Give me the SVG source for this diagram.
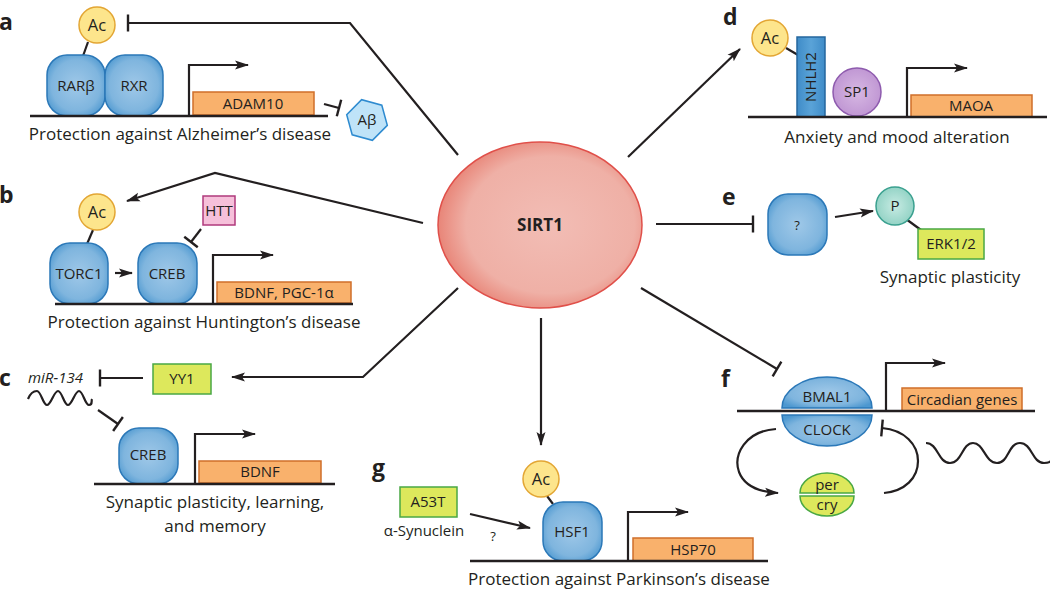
<svg xmlns="http://www.w3.org/2000/svg" width="1050" height="591" viewBox="0 0 1050 591">
<defs>
<style>
text{font-family:"Open Sans","Liberation Sans",sans-serif;fill:#231f20}
.lbl{font-size:23px;font-weight:bold}
.cap{font-size:17px;text-anchor:middle}
.in{font-size:15px;text-anchor:middle}
.act{font-size:16.5px;text-anchor:middle}
.ln{fill:none;stroke:#231f20;stroke-width:2.2}
.dna{fill:none;stroke:#231f20;stroke-width:2.6}
.prot{fill:url(#blue);stroke:#2b78b8;stroke-width:1.5}
.ac{fill:#fde58c;stroke:#e3a634;stroke-width:1.5}
.gene{fill:#f9b16c;stroke:#cf6f2a;stroke-width:1.5}
.yg{fill:#dde85c;stroke:#4aa844;stroke-width:1.5}
</style>
<radialGradient id="blue" cx="50%" cy="50%" r="60%">
<stop offset="0" stop-color="#9fc8e8"/><stop offset="0.7" stop-color="#7fb5de"/><stop offset="1" stop-color="#4d98d0"/>
</radialGradient>
<radialGradient id="red" cx="55%" cy="50%" r="55%">
<stop offset="0" stop-color="#f2bdb5"/><stop offset="0.75" stop-color="#efb0a6"/><stop offset="1" stop-color="#e88578"/>
</radialGradient>
<radialGradient id="teal" cx="50%" cy="50%" r="55%">
<stop offset="0" stop-color="#c7ebe3"/><stop offset="1" stop-color="#8fd1c3"/>
</radialGradient>
<radialGradient id="purple" cx="50%" cy="50%" r="55%">
<stop offset="0" stop-color="#d7b8e3"/><stop offset="1" stop-color="#be94d2"/>
</radialGradient>
<linearGradient id="nhlh" x1="0" x2="1" y1="0" y2="0">
<stop offset="0" stop-color="#3f8cc8"/><stop offset="0.5" stop-color="#5aa3d8"/><stop offset="1" stop-color="#3f8cc8"/>
</linearGradient>
<marker id="arr" markerUnits="userSpaceOnUse" markerWidth="14" markerHeight="10" viewBox="0 0 14 10" refX="13" refY="5" orient="auto">
<path d="M0,0.5 L14,5 L0,9.5 L3,5 z" fill="#231f20"/>
</marker>
<marker id="bar" markerUnits="userSpaceOnUse" markerWidth="4" markerHeight="20" viewBox="-2 -10 4 20" refX="0" refY="0" orient="auto">
<line x1="0" y1="-8.5" x2="0" y2="8.5" stroke="#231f20" stroke-width="2.4"/>
</marker>
</defs>

<g id="connectors">
<polyline class="ln" points="458,155 350,23 128,23" marker-end="url(#bar)"/>
<polyline class="ln" points="423,223 215,173 127,201" marker-end="url(#arr)"/>
<polyline class="ln" points="458,288 363,377 232,377" marker-end="url(#arr)"/>
<line class="ln" x1="541" y1="318" x2="541" y2="445" marker-end="url(#arr)"/>
<line class="ln" x1="628" y1="157" x2="740" y2="49" marker-end="url(#arr)"/>
<line class="ln" x1="656" y1="224" x2="753" y2="224" marker-end="url(#bar)"/>
<line class="ln" x1="641" y1="288" x2="777" y2="369" marker-end="url(#bar)"/>
</g>

<g id="sirt1">
<ellipse cx="540" cy="225" rx="102" ry="83" fill="url(#red)" stroke="#e0504a" stroke-width="1.5"/>
<text x="540" y="231" style="font-size:17px;font-weight:bold;text-anchor:middle">SIRT1</text>
</g>

<g id="panel-a">
<text class="lbl" x="-1" y="30">a</text>
<line class="ln" x1="88" y1="42" x2="83" y2="56"/>
<circle class="ac" cx="97" cy="25" r="18"/>
<text class="act" x="97" y="31">Ac</text>
<rect class="prot" x="47" y="55" width="58" height="61" rx="20"/>
<rect class="prot" x="105" y="55" width="58" height="61" rx="20"/>
<text class="in" x="76" y="91">RARβ</text>
<text class="in" x="134" y="91">RXR</text>
<rect class="gene" x="193" y="92" width="121" height="23"/>
<text class="in" x="253" y="109">ADAM10</text>
<polyline class="ln" points="189,116 189,65 248,65" marker-end="url(#arr)"/>
<line class="dna" x1="30" y1="116" x2="328" y2="116"/>
<line class="ln" x1="324" y1="104" x2="339" y2="108" marker-end="url(#bar)"/>
<polygon points="387.3,125.4 372.4,140.3 352.2,134.8 346.7,114.6 361.6,99.7 381.8,105.2" fill="#bfe3f8" stroke="#2e8bd0" stroke-width="1.5"/>
<text class="in" x="367" y="125">Aβ</text>
<text class="cap" x="180" y="140">Protection against Alzheimer’s disease</text>
</g>

<g id="panel-b">
<text class="lbl" x="-1" y="203">b</text>
<line class="ln" x1="93" y1="230" x2="87" y2="244"/>
<circle class="ac" cx="97" cy="212" r="18"/>
<text class="act" x="97" y="218">Ac</text>
<rect x="203" y="196" width="32" height="29" fill="#f6c0da" stroke="#b03a7c" stroke-width="1.5"/>
<text class="in" x="219" y="216">HTT</text>
<line class="ln" x1="201" y1="229" x2="191" y2="242" marker-end="url(#bar)"/>
<rect class="prot" x="50" y="243" width="58" height="61" rx="20"/>
<rect class="prot" x="138" y="243" width="59" height="61" rx="20"/>
<text class="in" x="79" y="279">TORC1</text>
<text class="in" x="167" y="279">CREB</text>
<line class="ln" x1="115" y1="273" x2="132" y2="273" marker-end="url(#arr)"/>
<rect class="gene" x="217" y="282" width="134" height="21"/>
<text class="in" x="284" y="298">BDNF, PGC-1α</text>
<polyline class="ln" points="213,304 213,255 273,255" marker-end="url(#arr)"/>
<line class="dna" x1="55" y1="304" x2="353" y2="304"/>
<text class="cap" x="204" y="328">Protection against Huntington’s disease</text>
</g>

<g id="panel-c">
<text class="lbl" x="-1" y="386">c</text>
<text x="28" y="383" style="font-size:15px;font-style:italic">miR-134</text>
<path class="ln" d="M28,399 C30,394 33,391 37,391 C41,391 43,405 47,405 S54,391 58,391 S64,405 68,405 S75,391 79,391 S85,405 89,405 S91,401 92,399"/>
<rect class="yg" x="153" y="364" width="58" height="30"/>
<text class="in" x="182" y="384">YY1</text>
<line class="ln" x1="143" y1="378" x2="100" y2="378" marker-end="url(#bar)"/>
<line class="ln" x1="98" y1="410" x2="118" y2="424" marker-end="url(#bar)"/>
<rect class="prot" x="119" y="428" width="59" height="56" rx="20"/>
<text class="in" x="148" y="460">CREB</text>
<rect class="gene" x="199" y="461" width="122" height="22"/>
<text class="in" x="260" y="477">BDNF</text>
<polyline class="ln" points="195,484 195,434 255,434" marker-end="url(#arr)"/>
<line class="dna" x1="94" y1="484" x2="335" y2="484"/>
<text class="cap" x="215" y="508">Synaptic plasticity, learning,</text>
<text class="cap" x="215" y="532">and memory</text>
</g>

<g id="panel-d">
<text class="lbl" x="723" y="25">d</text>
<line class="ln" x1="786" y1="48" x2="798" y2="55"/>
<circle class="ac" cx="770" cy="38" r="18"/>
<text class="act" x="770" y="44">Ac</text>
<rect x="797" y="37" width="28" height="80" fill="url(#nhlh)" stroke="#24679e" stroke-width="1.5"/>
<text class="in" x="0" y="0" transform="translate(816,77) rotate(-90)">NHLH2</text>
<circle cx="857" cy="92" r="24" fill="url(#purple)" stroke="#8e5bae" stroke-width="1.5"/>
<text class="in" x="857" y="97">SP1</text>
<rect class="gene" x="911" y="95" width="121" height="22"/>
<text class="in" x="971" y="111">MAOA</text>
<polyline class="ln" points="907,117 907,68 967,68" marker-end="url(#arr)"/>
<line class="dna" x1="748" y1="117" x2="1047" y2="117"/>
<text class="cap" x="897" y="143">Anxiety and mood alteration</text>
</g>

<g id="panel-e">
<text class="lbl" x="722" y="205">e</text>
<rect class="prot" x="768" y="194" width="59" height="61" rx="20"/>
<text class="in" x="797" y="230" style="font-size:13px">?</text>
<line class="ln" x1="835" y1="217" x2="873" y2="211" marker-end="url(#arr)"/>
<line class="ln" x1="906" y1="219" x2="921" y2="230"/>
<circle cx="895" cy="206" r="19" fill="url(#teal)" stroke="#3aa08f" stroke-width="1.5"/>
<text class="in" x="895" y="211">P</text>
<rect class="yg" x="918" y="229" width="66" height="30"/>
<text class="in" x="951" y="249">ERK1/2</text>
<text class="cap" x="950" y="283">Synaptic plasticity</text>
</g>

<g id="panel-f">
<text class="lbl" x="721" y="387">f</text>
<path d="M782,408 A45,31 0 0 1 872,408 Z" class="prot"/>
<text class="in" x="827" y="402">BMAL1</text>
<path d="M782,415 A45,31 0 0 0 872,415 Z" class="prot"/>
<text class="in" x="827" y="435">CLOCK</text>
<rect class="gene" x="902" y="388" width="120" height="23"/>
<text class="in" x="962" y="405">Circadian genes</text>
<polyline class="ln" points="886,411 886,363 945,363" marker-end="url(#arr)"/>
<line class="dna" x1="737" y1="411" x2="1035" y2="411"/>
<path class="ln" d="M776,429 C745,431 733,455 739,472 C744,485 758,492 778,493" marker-end="url(#arr)"/>
<path class="ln" d="M884,493 C905,491 918,478 918,461 C918,445 905,430 882,428" marker-end="url(#bar)"/>
<path d="M800,493 A27,20 0 0 1 854,493 Z" class="yg"/>
<text class="in" x="827" y="490">per</text>
<path d="M800,496 A27,20 0 0 0 854,496 Z" class="yg"/>
<text class="in" x="827" y="510">cry</text>
<path class="ln" d="M926,443 C938,443 938,463 950,463 S962,443 973,443 S985,463 997,463 S1008,443 1020,443 S1032,463 1044,463 S1050,455 1052,452"/>
</g>

<g id="panel-g">
<text class="lbl" x="372" y="476">g</text>
<line class="ln" x1="547" y1="496" x2="553" y2="504"/>
<circle class="ac" cx="541" cy="479" r="18"/>
<text class="act" x="541" y="485">Ac</text>
<rect class="prot" x="543" y="502" width="59" height="59" rx="20"/>
<text class="in" x="572" y="537">HSF1</text>
<rect class="yg" x="400" y="487" width="57" height="30"/>
<text class="in" x="428" y="507">A53T</text>
<text class="in" x="424" y="536">α-Synuclein</text>
<text class="in" x="493" y="541" style="font-size:13px">?</text>
<line class="ln" x1="470" y1="514" x2="530" y2="528" marker-end="url(#arr)"/>
<rect class="gene" x="633" y="538" width="120" height="23"/>
<text class="in" x="693" y="555">HSP70</text>
<polyline class="ln" points="628,561 628,512 688,512" marker-end="url(#arr)"/>
<line class="dna" x1="470" y1="561" x2="768" y2="561"/>
<text class="cap" x="619" y="585">Protection against Parkinson’s disease</text>
</g>
</svg>
